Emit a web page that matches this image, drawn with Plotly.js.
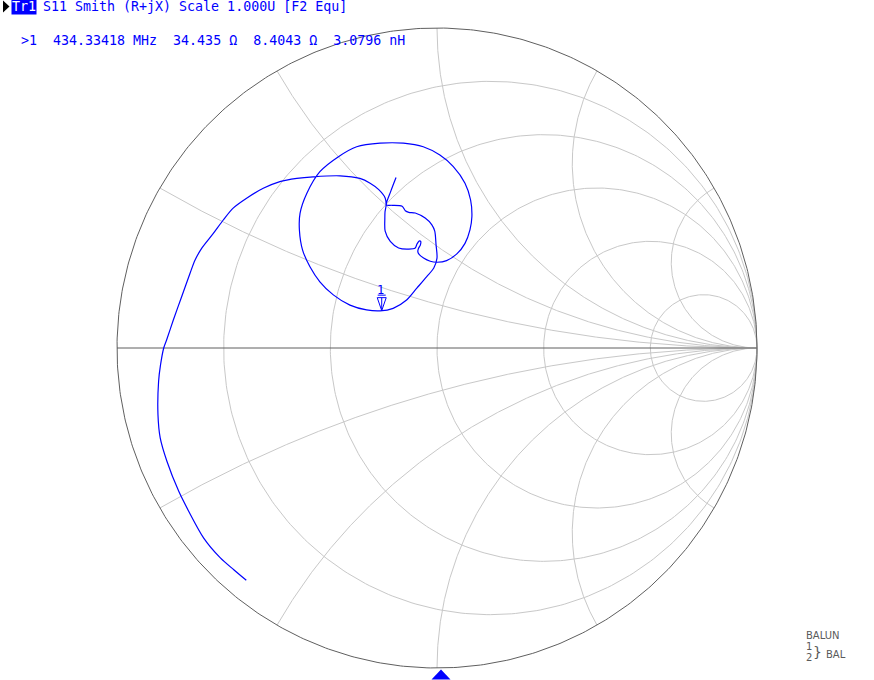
<!DOCTYPE html>
<html>
<head>
<meta charset="utf-8">
<script src="https://cdn.plot.ly/plotly-3.0.1.min.js"></script>
<style>
  html, body { margin: 0; padding: 0; background: #ffffff; }
  #chart { width: 874px; height: 680px; }
</style>
</head>
<body>
<div id="chart"></div>
<script>
// ---- Data: measured S11 (reflection coefficient, real / imaginary) ----
const s11Re = [
  -0.596, -0.635, -0.677, -0.729, -0.776, -0.807, -0.844, -0.865, -0.872, -0.870,
  -0.864, -0.854, -0.845, -0.824, -0.798, -0.772, -0.756, -0.735, -0.699, -0.668, -0.637,
  -0.595, -0.543, -0.491, -0.438, -0.387, -0.303, -0.241, -0.209, -0.182, -0.162,
  -0.159, -0.1625, -0.163, -0.162, -0.146, -0.120, -0.088, -0.068, -0.0625, -0.056,
  -0.051, -0.052, -0.058, -0.060, -0.057, -0.042, -0.021, 0.000, 0.030, 0.062,
  0.0875, 0.103, 0.109, 0.105, 0.0875, 0.051, 0.009, -0.043, -0.105, -0.178,
  -0.251, -0.308, -0.366, -0.407, -0.428, -0.430, -0.420, -0.397, -0.366, -0.324,
  -0.272, -0.220, -0.178, -0.137, -0.095, -0.063, -0.032, -0.010, 0.000, -0.003,
  -0.007, -0.016, -0.037, -0.068, -0.088, -0.099, -0.109, -0.141, -0.158, -0.144,
  -0.128
];
const s11Im = [
  -0.726, -0.693, -0.656, -0.594, -0.510, -0.448, -0.354, -0.281, -0.208, -0.104,
  -0.053, 0.000, 0.025, 0.0875, 0.160, 0.233, 0.275, 0.312, 0.358, 0.400, 0.437,
  0.468, 0.499, 0.520, 0.530, 0.535, 0.538, 0.530, 0.515, 0.495, 0.469,
  0.446, 0.425, 0.406, 0.365, 0.333, 0.3125, 0.309, 0.3125, 0.325, 0.334,
  0.333, 0.322, 0.311, 0.302, 0.294, 0.281, 0.271, 0.268, 0.273, 0.294,
  0.327, 0.369, 0.410, 0.4625, 0.515, 0.567, 0.603, 0.629, 0.640, 0.640,
  0.629, 0.598, 0.551, 0.483, 0.421, 0.369, 0.306, 0.254, 0.207, 0.166,
  0.134, 0.119, 0.116, 0.124, 0.150, 0.187, 0.223, 0.250, 0.281, 0.323,
  0.365, 0.385, 0.406, 0.422, 0.424, 0.429, 0.443, 0.446, 0.447, 0.491,
  0.533
];

// Smith grid values (normalized)
const resistanceGrid = [0.2, 0.5, 1, 2, 5];
const reactanceGrid = [0.2679, 0.5774, 1, 1.732, 3.732];

// Marker 1 readout
const markerName = "1";
const markerFreqMHz = "434.33418";
const markerR = 34.435;   // ohm
const markerX = 8.4043;   // ohm
const markerL = "3.0796"; // nH
const z0 = 50;

// Header texts
const traceLabel = "Tr1";
const headerText = "S11 Smith (R+jX) Scale 1.000U [F2 Equ]";
const balunLabel = "BALUN";

// ---- helpers ----
function rCircle(r, n) {
  const c = r / (1 + r), rad = 1 / (1 + r);
  const xs = [], ys = [];
  for (let k = 0; k <= n; k++) {
    const t = 2 * Math.PI * k / n;
    xs.push(c + rad * Math.cos(t));
    ys.push(rad * Math.sin(t));
  }
  return {xs, ys};
}
function xArc(x, n) {
  const xs = [], ys = [];
  for (let k = 0; k <= n; k++) {
    const s = (Math.PI / 2) * k / n;
    let gx, gy;
    if (k === n) { gx = 1; gy = 0; }
    else {
      const r = Math.tan(s);
      const d = (r + 1) * (r + 1) + x * x;
      gx = (r * r - 1 + x * x) / d;
      gy = 2 * x / d;
    }
    xs.push(gx); ys.push(gy);
  }
  return {xs, ys};
}

const gridColor = "#c8c8c8";
const axisColor = "#5f5f5f";
const blue = "#0000ff";
const traces = [];

resistanceGrid.forEach(r => {
  const c = rCircle(r, 400);
  traces.push({type: "scatter", mode: "lines", x: c.xs, y: c.ys,
    line: {color: gridColor, width: 1}, hoverinfo: "skip", showlegend: false});
});
reactanceGrid.forEach(xv => {
  [xv, -xv].forEach(v => {
    const a = xArc(v, 600);
    traces.push({type: "scatter", mode: "lines", x: a.xs, y: a.ys,
      line: {color: gridColor, width: 1}, hoverinfo: "skip", showlegend: false});
  });
});
// outer circle (r = 0) and real axis
const outer = rCircle(0, 600);
traces.push({type: "scatter", mode: "lines", x: outer.xs, y: outer.ys,
  line: {color: axisColor, width: 1}, hoverinfo: "skip", showlegend: false});
traces.push({type: "scatter", mode: "lines", x: [-1, 1], y: [0, 0],
  line: {color: axisColor, width: 1}, hoverinfo: "skip", showlegend: false});

// measured trace
traces.push({type: "scatter", mode: "lines", x: s11Re, y: s11Im,
  line: {color: blue, width: 1.2, shape: "spline", smoothing: 0.8},
  hoverinfo: "skip", showlegend: false});

// marker position from readout
const zr = markerR / z0, zi = markerX / z0;
const den = (zr + 1) * (zr + 1) + zi * zi;
const mRe = (zr * zr - 1 + zi * zi) / den;
const mIm = 2 * zi / den;

const W = 874, H = 680;
const cx = 437, cy = 348, R = 320;
const px = v => v / W, py = v => 1 - v / H;

const mono = "DejaVu Sans Mono, monospace";
const headerLine2 = ">" + markerName + "  " + markerFreqMHz + " MHz  " +
  markerR.toFixed(3) + " \u03A9  " + markerX.toFixed(4) + " \u03A9  " + markerL + " nH";
const gray = "#5a5a5a";

const annotations = [
  {xref: "paper", yref: "paper", x: px(11), y: py(7), xanchor: "left", yanchor: "middle",
   text: traceLabel, showarrow: false, bgcolor: blue, borderpad: 0,
   font: {family: mono, size: 13.3, color: "#ffffff"}},
  {xref: "paper", yref: "paper", x: px(41), y: py(7), xanchor: "left", yanchor: "middle",
   text: headerText, showarrow: false, font: {family: mono, size: 13.3, color: blue}},
  {xref: "paper", yref: "paper", x: px(19), y: py(40), xanchor: "left", yanchor: "middle",
   text: headerLine2, showarrow: false, font: {family: mono, size: 13.3, color: blue}},
  {xref: "x", yref: "y", x: mRe, y: mIm, yshift: 21, xshift: -1, xanchor: "center", yanchor: "middle",
   text: markerName, showarrow: false, font: {family: mono, size: 12, color: blue}},
  {xref: "paper", yref: "paper", x: px(804), y: py(635), xanchor: "left", yanchor: "middle",
   text: balunLabel, showarrow: false, font: {family: "DejaVu Sans", size: 10, color: gray}},
  {xref: "paper", yref: "paper", x: px(804), y: py(646.5), xanchor: "left", yanchor: "middle",
   text: "1", showarrow: false, font: {family: "DejaVu Sans", size: 10, color: gray}},
  {xref: "paper", yref: "paper", x: px(804), y: py(657.5), xanchor: "left", yanchor: "middle",
   text: "2", showarrow: false, font: {family: "DejaVu Sans", size: 10, color: gray}},
  {xref: "paper", yref: "paper", x: px(811), y: py(652), xanchor: "left", yanchor: "middle",
   text: "}", showarrow: false, font: {family: "DejaVu Sans", size: 14, color: gray}},
  {xref: "paper", yref: "paper", x: px(824), y: py(654), xanchor: "left", yanchor: "middle",
   text: "BAL", showarrow: false, font: {family: "DejaVu Sans", size: 10, color: gray}}
];

const shapes = [
  // trace pointer triangle (top-left)
  {type: "path", xref: "paper", yref: "paper",
   path: "M" + px(3) + "," + py(0.5) + " L" + px(9.5) + "," + py(6.5) +
         " L" + px(3) + "," + py(12.5) + " Z",
   fillcolor: "#000000", line: {color: "#000000", width: 0}},
  // marker glyph anchored at the marker point
  {type: "path", xref: "x", yref: "y", xsizemode: "pixel", ysizemode: "pixel",
   xanchor: mRe, yanchor: mIm, path: "M-4.5,13 L4.5,13 L0,0 Z M0,13 L0,1 M-4,15.5 L4,15.5",
   line: {color: blue, width: 1}},
  // sweep indicator triangle at bottom
  {type: "path", xref: "paper", yref: "paper",
   path: "M" + px(431.5) + "," + py(679.5) + " L" + px(450.5) + "," + py(679.5) +
         " L" + px(441) + "," + py(669.5) + " Z",
   fillcolor: blue, line: {color: blue, width: 0}}
];

const layout = {
  width: W, height: H,
  margin: {l: 0, r: 0, t: 0, b: 0, pad: 0},
  paper_bgcolor: "#ffffff", plot_bgcolor: "#ffffff",
  showlegend: false,
  xaxis: {range: [-cx / R, (W - cx) / R], visible: false, fixedrange: true},
  yaxis: {range: [-(H - cy) / R, cy / R], visible: false, fixedrange: true},
  annotations: annotations,
  shapes: shapes
};

Plotly.newPlot("chart", traces, layout, {displayModeBar: false, staticPlot: true});
</script>
</body>
</html>
